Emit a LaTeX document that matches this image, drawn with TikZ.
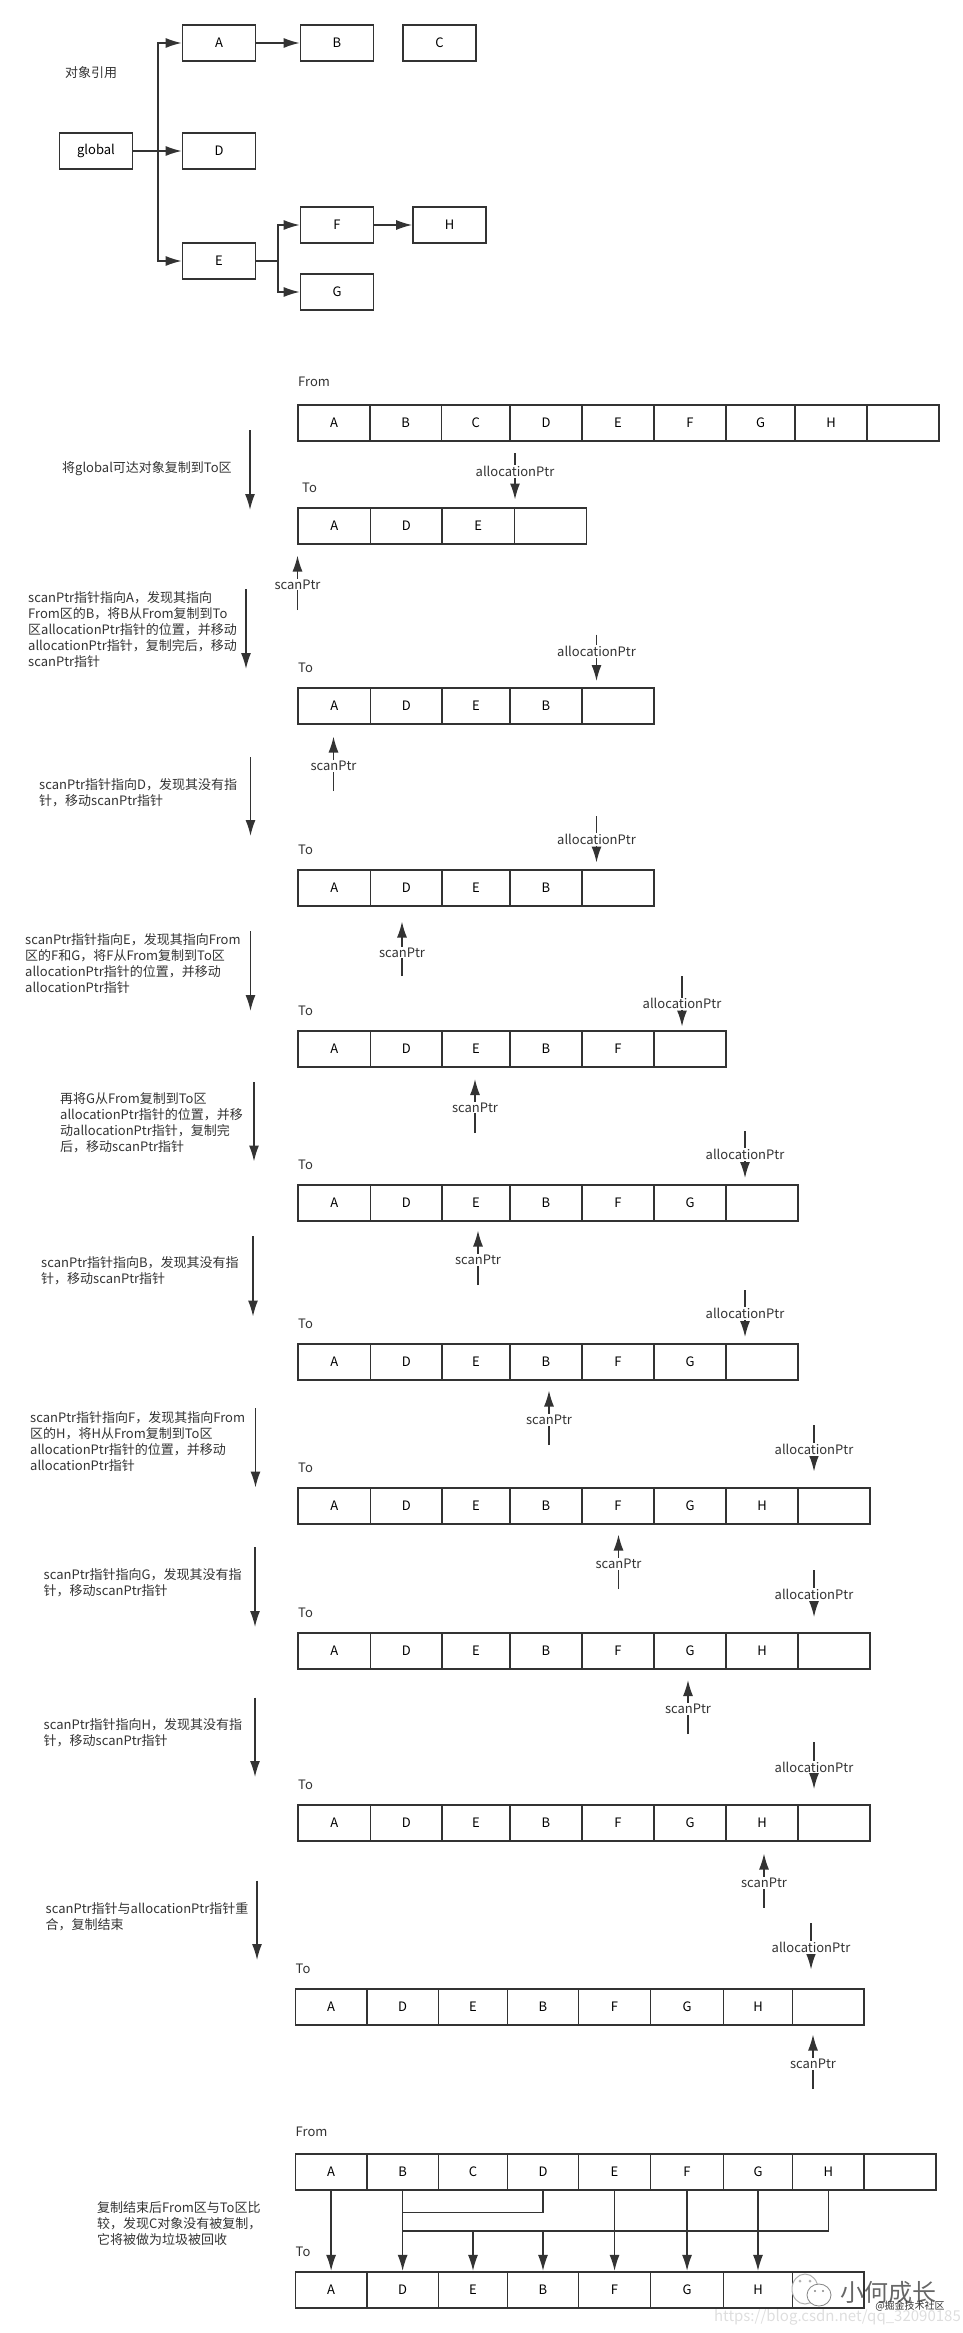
\documentclass[tikz,border=0pt]{standalone}
\usepackage{fontspec}
\setmainfont{Noto Sans CJK SC}
\usetikzlibrary{arrows.meta}

\definecolor{inkgray}{HTML}{333333}
\definecolor{markgray}{HTML}{DEDEDE}

\def\firstedges{298,370.5,442,514.5,586.5}
\def\toedges{298,370.5,442,510,582,654,726,798,870}
\def\fromedges{298,370,441.5,510,582,654,726,795,867,939}
\def\lastedges{295.5,366.7,438.6,507.4,578.6,650.5,723.6,792.4,864.3,936}

\tikzset{
	objbox/.style={draw=inkgray, line width=1.7pt, fill=white, minimum width=73pt, minimum height=36.5pt, inner sep=0pt},
	cell/.style={draw=inkgray, line width=1.7pt, fill=white, minimum height=36.5pt, inner sep=0pt},
	tip/.style={-{Latex[length=16pt,width=10pt]}, draw=inkgray, line width=1.4pt},
	plainline/.style={draw=inkgray, line width=1.4pt},
	ptrlabel/.style={fill=white, inner sep=1pt, text=inkgray},
	note/.style={align=left, anchor=north west, inner sep=0pt, text=inkgray},
	rowname/.style={anchor=west, inner sep=0pt, text=inkgray},
}

% one row of cells: name, y of its centre, list of edges, labels
\newcommand{\cellrow}[4]{
	\foreach \lab [count=\i, evaluate=\i as \j using int(\i-1)] in {#4}{
		\pgfmathsetmacro\xa{{#3}[\j]}
		\pgfmathsetmacro\xb{{#3}[\j+1]}
		\pgfmathsetmacro\xc{(\xa+\xb)/2}
		\pgfmathsetmacro\xw{\xb-\xa}
		\node[cell, minimum width=\xw pt] (#1\i) at (\xc,#2) {\lab};
	}
}
% long arrow beside a step: name, x, y from, y to
\newcommand{\stepline}[4]{
	\coordinate (#1top) at (#2,#3);
	\coordinate (#1end) at (#2,#4);
	\draw[tip] (#1top) -- (#1end);
}
% pointer with its label on the line: name, x, y tail, y tip, pos, text
\newcommand{\ptrline}[6]{
	\coordinate (#1tail) at (#2,#3);
	\coordinate (#1tip) at (#2,#4);
	\draw[tip] (#1tail) -- node[ptrlabel, pos=#5] (#1text) {#6} (#1tip);
}

\begin{document}
\begin{tikzpicture}[x=1pt, y=-1pt, font=\fontsize{13}{16}\selectfont]
	\useasboundingbox (0,0) rectangle (963,2333);

	% object graph
	\node[objbox] (global) at (96,151) {global};
	\node[objbox] (A) at (219,43) {A};
	\node[objbox] (B) at (337,43) {B};
	\node[objbox] (C) at (439.5,43) {C};
	\node[objbox] (D) at (219,151) {D};
	\node[objbox] (E) at (219,261) {E};
	\node[objbox] (F) at (337,225) {F};
	\node[objbox] (G) at (337,292) {G};
	\node[objbox] (H) at (449.5,225) {H};
	\node[rowname] (title) at (65,73) {对象引用};
	\coordinate (gfork) at (158,151);
	\coordinate (efork) at (278,261);
	\draw[tip] (global) -- (D);
	\draw[tip] (gfork) |- (A);
	\draw[tip] (gfork) |- (E);
	\draw[tip] (A) -- (B);
	\draw[tip] (E) -- (efork) |- (F);
	\draw[tip] (efork) |- (G);
	\draw[tip] (F) -- (H);

	% first copy
	\node[rowname] (fromname) at (298,381.5) {From};
	\cellrow{from}{423}{\fromedges}{A,B,C,D,E,F,G,H,{}}
	\node[rowname] (toname) at (302,487.5) {To};
	\cellrow{toa}{526}{\firstedges}{A,D,E,{}}
	\stepline{stepa}{250}{430}{510}
	\node[note] (notea) at (62,461) {将global可达对象复制到To区};
	\ptrline{alloca}{515}{453}{499.5}{.4}{allocationPtr}
	\ptrline{scana}{297.5}{610}{555.5}{.47}{scanPtr}

	% scanPtr on A
	\node[rowname] (tonb) at (298,667.5) {To};
	\cellrow{tob}{706}{\toedges}{A,D,E,B,{}}
	\stepline{stepb}{246}{589}{669}
	\node[note] (noteb) at (28,591.5) {scanPtr指针指向A，发现其指向\\From区的B，将B从From复制到To\\区allocationPtr指针的位置，并移动\\allocationPtr指针，复制完后，移动\\scanPtr指针};
	\ptrline{allocb}{596.5}{634.5}{681}{.37}{allocationPtr}
	\ptrline{scanb}{333.5}{791}{736.5}{.46}{scanPtr}

	% scanPtr on D
	\node[rowname] (tonc) at (298,849.5) {To};
	\cellrow{toc}{888}{\toedges}{A,D,E,B,{}}
	\stepline{stepc}{250.5}{757}{836}
	\node[note] (notec) at (39,778) {scanPtr指针指向D，发现其没有指\\针，移动scanPtr指针};
	\ptrline{allocc}{596.5}{816}{862.5}{.5}{allocationPtr}
	\ptrline{scanc}{402}{976}{921.5}{.43}{scanPtr}

	% scanPtr on E
	\node[rowname] (tond) at (298,1010.5) {To};
	\cellrow{tod}{1049}{\toedges}{A,D,E,B,F,{}}
	\stepline{stepd}{250.5}{931}{1011}
	\node[note] (noted) at (25,933.5) {scanPtr指针指向E，发现其指向From\\区的F和G，将F从From复制到To区\\allocationPtr指针的位置，并移动\\allocationPtr指针};
	\ptrline{allocd}{682}{976}{1026.5}{.55}{allocationPtr}
	\ptrline{scand}{475}{1133}{1079}{.47}{scanPtr}

	% G copied
	\node[rowname] (tone) at (298,1164.5) {To};
	\cellrow{toe}{1203}{\toedges}{A,D,E,B,F,G,{}}
	\stepline{stepe}{254}{1082}{1161.5}
	\node[note] (notee) at (60,1092.5) {再将G从From复制到To区\\allocationPtr指针的位置，并移\\动allocationPtr指针，复制完\\后，移动scanPtr指针};
	\ptrline{alloce}{745}{1131}{1178}{.5}{allocationPtr}
	\ptrline{scane}{478}{1285}{1230.5}{.46}{scanPtr}

	% scanPtr on B
	\node[rowname] (tonf) at (298,1323.5) {To};
	\cellrow{tof}{1362}{\toedges}{A,D,E,B,F,G,{}}
	\stepline{stepf}{253}{1236}{1316.5}
	\node[note] (notef) at (41,1256.5) {scanPtr指针指向B，发现其没有指\\针，移动scanPtr指针};
	\ptrline{allocf}{745}{1290}{1337}{.5}{allocationPtr}
	\ptrline{scanf}{549}{1445}{1390.5}{.46}{scanPtr}

	% scanPtr on F
	\node[rowname] (tong) at (298,1467.5) {To};
	\cellrow{tog}{1506}{\toedges}{A,D,E,B,F,G,H,{}}
	\stepline{stepg}{255.5}{1408}{1487.5}
	\node[note] (noteg) at (30,1411) {scanPtr指针指向F，发现其指向From\\区的H，将H从From复制到To区\\allocationPtr指针的位置，并移动\\allocationPtr指针};
	\ptrline{allocg}{814}{1425}{1471.5}{.53}{allocationPtr}
	\ptrline{scang}{618.5}{1589}{1534.5}{.46}{scanPtr}

	% scanPtr on G
	\node[rowname] (tonh) at (298,1612.5) {To};
	\cellrow{toh}{1651}{\toedges}{A,D,E,B,F,G,H,{}}
	\stepline{steph}{255}{1547}{1627}
	\node[note] (noteh) at (43.5,1568.5) {scanPtr指针指向G，发现其没有指\\针，移动scanPtr指针};
	\ptrline{alloch}{814}{1570}{1617}{.52}{allocationPtr}
	\ptrline{scanh}{688}{1734}{1680}{.46}{scanPtr}

	% scanPtr on H
	\node[rowname] (toni) at (298,1784.5) {To};
	\cellrow{toi}{1823}{\toedges}{A,D,E,B,F,G,H,{}}
	\stepline{stepi}{255}{1697.5}{1777}
	\node[note] (notei) at (43.5,1718.5) {scanPtr指针指向H，发现其没有指\\针，移动scanPtr指针};
	\ptrline{alloci}{814}{1742}{1789}{.53}{allocationPtr}
	\ptrline{scani}{764}{1907.5}{1853.5}{.46}{scanPtr}

	% pointers meet
	\node[rowname] (tonj) at (295.5,1968.5) {To};
	\cellrow{toj}{2007}{\lastedges}{A,D,E,B,F,G,H,{}}
	\stepline{stepj}{257}{1880.5}{1960}
	\node[note] (notej) at (45.5,1902) {scanPtr指针与allocationPtr指针重\\合，复制结束};
	\ptrline{allocj}{811}{1923}{1969.5}{.53}{allocationPtr}
	\ptrline{scanj}{813}{2089}{2034.5}{.46}{scanPtr}

	% from against to
	\node[rowname] (fromlast) at (295.5,2131.5) {From};
	\cellrow{last}{2172}{\lastedges}{A,B,C,D,E,F,G,H,{}}
	\node[rowname] (tolast) at (295.5,2251.5) {To};
	\cellrow{kept}{2290}{\lastedges}{A,D,E,B,F,G,H,{}}
	\node[note] (notek) at (97,2201.5) {复制结束后From区与To区比\\较，发现C对象没有被复制，\\它将被做为垃圾被回收};
	\coordinate (dbend) at (402.6,2212.5);
	\coordinate (hbend) at (402.6,2231);
	\draw[tip] (last1) -- (kept1);
	\draw[tip] (last2) -- (kept2);
	\draw[tip] (last5) -- (kept5);
	\draw[tip] (last6) -- (kept6);
	\draw[tip] (last7) -- (kept7);
	\draw[plainline] (last4.south) |- (dbend);
	\draw[plainline] (last8.south) |- (hbend);
	\draw[tip] (hbend) -| (kept3.north);
	\draw[tip] (hbend) -| (kept4.north);

	% watermark
	\node[anchor=east, inner sep=0pt, text=markgray, font=\fontsize{15}{15}\selectfont] (url) at (961,2317) {https://blog.csdn.net/qq\_32090185};
	\draw[markgray!80!black, line width=1pt, fill=white] (805,2289) ellipse (13pt and 15pt);
	\fill[markgray!80!black] (800,2281) circle (1.5pt) (810,2281) circle (1.5pt);
	\draw[inkgray!60, line width=.8pt, fill=white] (819,2295) ellipse (12pt and 11pt);
	\fill[inkgray!60] (815,2291) circle (1.2pt) (823,2291) circle (1.2pt);
	\node[inner sep=0pt, text=inkgray!75, font=\fontsize{24}{24}\selectfont] (brand) at (888,2292) {小何成长};
	\node[inner sep=0pt, text=inkgray, font=\fontsize{10}{10}\selectfont] (site) at (910,2306.5) {@掘金技术社区};
\end{tikzpicture}
\end{document}
